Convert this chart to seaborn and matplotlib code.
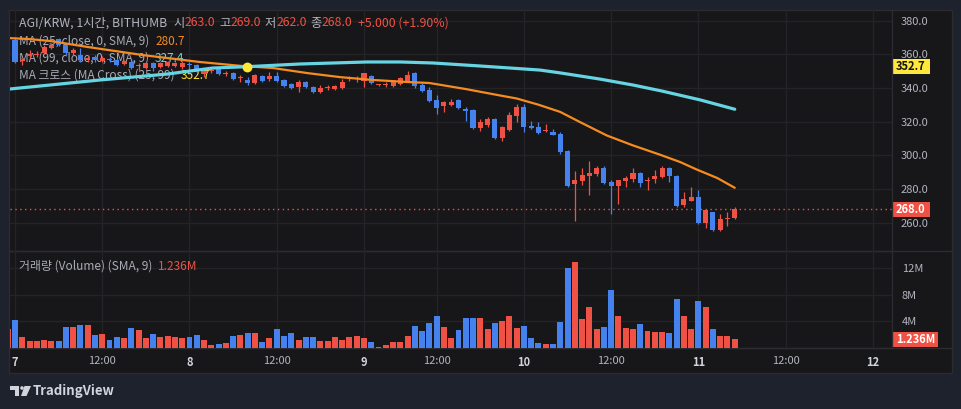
import matplotlib
matplotlib.use("Agg")
import matplotlib.pyplot as plt
from matplotlib.patches import Rectangle, Polygon, Circle
from matplotlib.lines import Line2D
import seaborn as sns

# hourly bars, index 0 = day 7 00:00 (two hours missing on day 9 morning)
bar_idx = list(range(-1, 100))

opens = [362.6, 368.5, 356.0, 359.0, 359.6, 360.8, 363.8, 369.1, 365.6, 360.8,
         359.6, 356.6, 358.4, 356.0, 357.2, 356.6, 354.3, 355.5, 353.1, 351.9,
         354.9, 352.5, 353.1, 353.1, 352.5, 354.3, 353.7, 348.3, 350.1, 352.5,
         348.3, 348.9, 346.0, 344.8, 343.0, 347.1, 345.4, 347.1, 344.8, 342.4,
         340.6, 343.6, 340.6, 337.6, 340.0, 339.4, 340.0, 345.4, 345.4, 344.2,
         347.1, 341.8, 341.8, 341.2, 342.4, 344.2, 348.9, 341.8, 338.8, 332.9,
         329.3, 329.9, 332.9, 327.5, 326.9, 316.2, 318.0, 321.6, 310.3, 315.1,
         323.4, 328.7, 317.4, 316.8, 314.3, 313.9, 312.7, 302.6, 283.0, 284.7,
         287.7, 288.9, 292.5, 284.2, 281.8, 284.7, 285.9, 289.5, 285.0, 285.9,
         287.1, 292.5, 287.7, 270.5, 272.9, 275.2, 259.8, 266.3, 255.6, 262.0,
         263.0]
highs = [369.0, 370.3, 357.8, 362.6, 362.0, 365.6, 367.0, 369.7, 366.2, 363.8,
         363.8, 359.0, 359.6, 359.0, 358.4, 357.8, 356.6, 356.6, 354.9, 355.5,
         355.5, 355.5, 356.0, 355.5, 356.0, 355.5, 354.3, 350.7, 351.9, 353.1,
         350.1, 349.5, 347.7, 346.5, 348.3, 347.7, 349.5, 349.5, 345.4, 343.0,
         344.8, 344.2, 341.2, 341.8, 341.8, 341.8, 345.4, 347.1, 347.1, 349.2,
         347.7, 342.4, 343.6, 344.8, 346.5, 350.1, 349.5, 343.0, 340.6, 335.8,
         332.3, 333.5, 333.5, 328.7, 327.5, 321.6, 322.8, 322.2, 317.4, 325.8,
         330.5, 330.5, 320.4, 319.8, 318.6, 315.6, 313.9, 303.0, 290.7, 292.5,
         296.6, 293.7, 293.7, 285.3, 285.5, 287.7, 292.5, 290.0, 287.1, 291.3,
         293.7, 293.1, 288.3, 278.2, 281.2, 279.4, 267.8, 266.6, 265.1, 266.3,
         269.0]
lows = [361.0, 355.0, 353.7, 357.8, 358.4, 360.2, 363.0, 365.0, 359.6, 359.6,
        355.5, 355.5, 355.5, 355.5, 355.5, 353.1, 353.7, 351.3, 350.7, 351.3,
        350.1, 351.9, 352.5, 352.5, 351.3, 350.7, 348.9, 346.5, 348.9, 347.7,
        347.1, 344.8, 343.6, 341.8, 342.4, 343.6, 344.2, 343.6, 340.6, 339.7,
        337.6, 340.0, 337.0, 337.0, 338.8, 338.8, 339.7, 344.2, 343.6, 340.6,
        342.4, 341.5, 340.6, 340.8, 341.8, 343.6, 340.0, 337.6, 332.0, 324.6,
        325.8, 329.3, 327.5, 320.4, 315.6, 314.5, 316.8, 309.7, 308.5, 314.5,
        319.8, 313.9, 315.6, 312.7, 313.9, 311.8, 300.8, 281.2, 261.0, 282.4,
        276.4, 287.7, 283.0, 265.1, 271.1, 281.2, 284.2, 281.2, 279.4, 283.6,
        286.8, 284.2, 269.3, 269.3, 272.6, 259.2, 256.8, 255.0, 255.0, 258.0,
        262.0]
closes = [368.5, 355.5, 356.6, 360.2, 360.2, 364.4, 365.6, 365.6, 360.8, 362.6,
          356.6, 357.8, 356.6, 357.8, 356.6, 353.7, 356.0, 351.9, 353.7, 354.9,
          351.9, 354.9, 355.5, 354.9, 354.9, 353.7, 349.5, 350.1, 350.7, 348.3,
          348.9, 345.4, 346.5, 343.0, 347.7, 344.2, 347.1, 344.2, 341.2, 340.0,
          343.6, 340.6, 337.6, 340.0, 340.6, 341.2, 343.6, 346.0, 346.0, 348.9,
          343.0, 342.1, 342.4, 344.2, 346.0, 347.7, 341.2, 338.2, 332.3, 328.1,
          331.7, 331.7, 328.1, 326.3, 316.2, 319.8, 321.6, 310.3, 316.8, 324.0,
          328.7, 316.8, 316.2, 313.3, 314.5, 312.1, 302.0, 281.8, 285.3, 288.3,
          289.5, 292.5, 283.6, 281.8, 285.3, 286.5, 289.5, 283.6, 285.3, 287.7,
          292.5, 287.7, 269.9, 274.1, 275.2, 259.8, 267.5, 255.6, 262.2, 262.2,
          268.0]
volumes = [2.8, 4.2, 1.65, 1.1, 1.1, 1.2, 1.1, 1.1, 3.15, 3.15,
           3.45, 3.45, 1.95, 2.1, 1.2, 1.65, 1.5, 3.0, 2.7, 1.5,
           2.1, 1.65, 1.8, 1.65, 1.5, 1.65, 1.95, 1.2, 0.45, 0.6,
           0.75, 1.8, 1.95, 2.25, 2.25, 0.9, 1.5, 2.85, 1.8, 2.25,
           1.2, 1.65, 1.65, 1.1, 1.1, 1.65, 1.2, 1.65, 1.8, 1.5,
           0.9, 0.15, 0.45, 0.9, 0.9, 1.8, 3.3, 2.55, 3.75, 4.8,
           3.15, 1.5, 2.7, 4.5, 4.5, 4.5, 2.85, 3.75, 4.05, 4.8,
           3.0, 3.3, 1.5, 0.75, 0.6, 0.6, 3.9, 12.0, 12.9, 4.35,
           6.15, 2.85, 3.15, 8.7, 4.8, 3.0, 2.85, 3.6, 2.55, 2.4,
           2.4, 2.25, 7.35, 4.8, 2.85, 7.05, 6.15, 2.85, 1.8, 1.8,
           1.35]  # millions

ma25_idx = [-0.8, 2, 4.8, 10, 17.6, 25.4, 31, 35.5, 40.2, 44.7, 49.2, 54, 57,
            62, 66.7, 69, 72, 75, 77.7, 81.4, 85, 88.7, 91.5, 93.8, 96.6, 99]
ma25_val = [369.7, 369.1, 368.0, 364.4, 359.6, 355.5, 353.2, 351.9, 348.9, 346.5,
            344.8, 343.6, 343.0, 339.4, 335.6, 333.8, 330.1, 325.8, 319.8, 311.8,
            305.9, 300.4, 296.0, 291.5, 286.5, 280.7]
ma99_idx = [-0.8, 4.8, 11.7, 20.9, 27.2, 31.9, 39.2, 48.4, 53, 57.5, 64, 72.2,
            75, 80.5, 85, 89, 94.2, 99]
ma99_val = [339.4, 341.8, 344.8, 348.3, 351.9, 352.7, 354.3, 355.5, 355.5, 354.9,
            353.1, 350.7, 349.0, 345.3, 341.8, 338.2, 333.0, 327.4]
cross_idx = [31.9]
cross_val = [352.7]

time_ticks = [0, 12, 24, 36, 48, 58, 70, 82, 94, 106, 118]
time_labels = ["7", "12:00", "8", "12:00", "9", "12:00", "10", "12:00", "11", "12:00", "12"]
price_ticks = [260, 280, 300, 320, 340, 360, 380]
vol_ticks = [4, 8, 12]
vol_labels = ["4M", "8M", "12M"]
vol_sma = 1.236

OUTER = "#1e222d"
PANEL = "#17171a"
BORDER = "#2b2b30"
GRID = "#242428"
TEXT = "#b2b5be"
LEG = "#a9acb5"
UP = "#ef5245"
DOWN = "#4682ee"

sns.set_theme(style="dark")
plt.rcParams["font.family"] = ["Noto Sans CJK KR", "DejaVu Sans"]

W, H = 962, 409
fig = plt.figure(figsize=(W / 100, H / 100), dpi=100)
fig.patch.set_facecolor(OUTER)

# pixel-coordinate overlay (y from the top)
pixax = fig.add_axes([0, 0, 1, 1], zorder=-5)
pixax.set_xlim(0, W)
pixax.set_ylim(H, 0)
pixax.axis("off")
pixax.patch.set_alpha(0)
pix = pixax.transData

pixax.add_patch(Rectangle((9.5, 10), 942.5, 363, facecolor=PANEL, edgecolor=BORDER, lw=1))


def fx(p):
    return p / W


def fy(p):
    return 1 - p / H


L, R = 9.5, 892
ax = fig.add_axes([fx(L), fy(250.7), fx(R) - fx(L), fy(10) - fy(250.7)])
axv = fig.add_axes([fx(L), fy(348), fx(R) - fx(L), fy(251) - fy(348)])

xmin, xmax = -0.757, 120.63
colors = [UP if c >= o else DOWN for o, c in zip(opens, closes)]

for a in (ax, axv):
    a.set_facecolor("none")
    a.set_xlim(xmin, xmax)
    a.set_xticks(time_ticks)
    a.grid(True, color=GRID, lw=1)
    a.set_axisbelow(True)
    a.yaxis.tick_right()
    a.tick_params(length=0, colors=TEXT, labelsize=8)
    for s in a.spines.values():
        s.set_color(BORDER)
        s.set_linewidth(1)
    a.spines["left"].set_visible(False)
    a.spines["top"].set_visible(False)

# price pane
ax.set_ylim(243.3, 386.4)
ax.set_yticks(price_ticks)
ax.set_yticklabels([f"{v:.1f}" for v in price_ticks])
ax.tick_params(axis="y", pad=6)
ax.tick_params(axis="x", labelbottom=False)

ax.vlines(bar_idx, lows, highs, colors=colors, lw=0.9, zorder=3)
bodies = [max(abs(c - o), 0.6) for o, c in zip(opens, closes)]
ax.bar(bar_idx, bodies, bottom=[min(o, c) for o, c in zip(opens, closes)],
       width=0.7, color=colors, zorder=3, linewidth=0)

sns.lineplot(x=ma25_idx, y=ma25_val, ax=ax, color="#f68b1f", lw=1.6, zorder=4)
sns.lineplot(x=ma99_idx, y=ma99_val, ax=ax, color="#66d4e2", lw=2.3, zorder=4)
sns.scatterplot(x=cross_idx, y=cross_val, ax=ax, s=50, color="#ffe83a", linewidth=0, zorder=5)
ax.axhline(closes[-1], color=UP, lw=1, ls=(0, (1, 2.5)), zorder=2)
ax.set_xlabel("")
ax.set_ylabel("")

# volume pane
axv.set_ylim(0, 14.55)
axv.set_yticks(vol_ticks)
axv.set_yticklabels(vol_labels)
axv.tick_params(axis="y", pad=7)
axv.tick_params(axis="x", pad=6)
axv.bar(bar_idx, volumes, width=0.82, color=colors, zorder=3, linewidth=0)
axv.set_xticklabels(time_labels)
for t in axv.get_xticklabels():
    if ":" not in t.get_text():
        t.set_color("#d1d4dc")
        t.set_fontweight("bold")

# separator lines running across the price column
for yy in (250.7, 348):
    pixax.add_line(Line2D([9.5, 952], [yy, yy], color=BORDER, lw=1))

# axis value boxes
def value_box(y, w, txt, fc, tc):
    pixax.add_patch(Rectangle((892, y - 7.5), w, 15, facecolor=fc, lw=0, zorder=6))
    pixax.text(896, y, txt, color=tc, fontsize=8, fontweight="bold",
               va="center", ha="left", zorder=7)


def price_y(p):
    return 10 + (386.4 - p) / (386.4 - 243.3) * 240.7


value_box(price_y(cross_val[0]), 38, f"{cross_val[0]:.1f}", "#ffe83a", "#131313")
value_box(price_y(closes[-1]), 38, f"{closes[-1]:.1f}", UP, "white")
value_box(348 - vol_sma / 14.55 * 97, 46, f"{vol_sma:.3f}M", UP, "white")

# legend texts (drawn behind the candles)
renderer = fig.canvas.get_renderer()


def seg_text(a, x, y, parts, size=9, z=2.5):
    for s, col, gap in parts:
        t = a.text(x, y, s, transform=pix, color=col, fontsize=size,
                   va="center", ha="left", zorder=z)
        x += t.get_window_extent(renderer=renderer).width + gap


seg_text(ax, 19, 23, [("AGI/KRW, 1시간, BITHUMB", TEXT, 6),
                      ("시", TEXT, 0), (f"{opens[-1]:.1f}", UP, 4),
                      ("고", TEXT, 0), (f"{highs[-1]:.1f}", UP, 4),
                      ("저", TEXT, 0), (f"{lows[-1]:.1f}", UP, 4),
                      ("종", TEXT, 0), (f"{closes[-1]:.1f}", UP, 5),
                      (f"+{closes[-1] - opens[-1]:.3f} (+1.90%)", UP, 0)], size=8.85)
seg_text(ax, 19, 41.5, [("MA (25, close, 0, SMA, 9)", LEG, 6), (f"{ma25_val[-1]:.1f}", "#f68b1f", 0)], size=8.5)
seg_text(ax, 19, 58.5, [("MA (99, close, 0, SMA, 9)", LEG, 6), (f"{ma99_val[-1]:.1f}", "#66d4e2", 0)], size=8.5)
seg_text(ax, 19, 75.5, [("MA 크로스 (MA Cross) (25, 99)", LEG, 6), (f"{cross_val[0]:.1f}", "#ffe83a", 0)], size=8.5)
seg_text(axv, 19, 266, [("거래량 (Volume) (SMA, 9)", LEG, 6), (f"{vol_sma:.3f}M", UP, 0)], size=8.6)

# TradingView mark
LOGO = "#d1d4dc"
pixax.add_patch(Polygon([(10, 386), (19.5, 386), (19.5, 396), (15, 396), (15, 389.5), (10, 389.5)],
                        closed=True, facecolor=LOGO, lw=0))
pixax.add_patch(Circle((22, 388), 1.8, facecolor=LOGO, lw=0))
pixax.add_patch(Polygon([(24.5, 386), (31, 386), (26.5, 396), (21, 396)], closed=True, facecolor=LOGO, lw=0))
pixax.text(33, 390.5, "TradingView", color=LOGO, fontsize=9.5, fontweight="semibold",
           va="center", ha="left")

fig.savefig("out.png", dpi=100, facecolor=OUTER)
